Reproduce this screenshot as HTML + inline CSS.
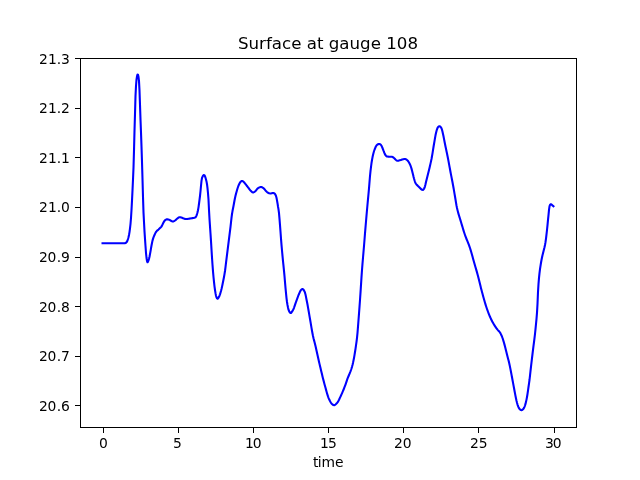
<!DOCTYPE html>
<html lang="en"><head><meta charset="utf-8"><title>Surface at gauge 108</title>
<style>html,body{margin:0;padding:0;background:#fff;overflow:hidden}svg{display:block}</style>
</head><body>
<svg width="640" height="480" viewBox="0 0 640 480">
<rect x="0" y="0" width="640" height="480" fill="#ffffff"/>
<polyline fill="none" stroke="#0000ff" stroke-width="2.083" stroke-linejoin="round" stroke-linecap="square" points="102.545,243.30 103,243.30 103.5,243.30 104,243.30 104.5,243.30 105,243.30 105.5,243.30 106,243.30 106.5,243.30 107,243.30 107.5,243.30 108,243.30 108.5,243.30 109,243.30 109.5,243.30 110,243.30 110.5,243.30 111,243.30 111.5,243.30 112,243.30 112.5,243.30 113,243.30 113.5,243.30 114,243.30 114.5,243.30 115,243.30 115.5,243.30 116,243.30 116.5,243.30 117,243.30 117.5,243.30 118,243.30 118.5,243.30 119,243.30 119.5,243.30 120,243.30 120.5,243.30 121,243.30 121.5,243.30 122,243.30 122.5,243.30 123,243.30 123.5,243.30 124,243.28 124.5,243.22 125,243.12 125.5,243.00 126,242.74 126.5,242.25 127,241.60 127.5,240.52 128,239.00 128.5,237.22 129,235.00 129.5,232.09 130,228.48 130.5,224.00 131,218.00 131.5,210.00 132,200.65 132.5,190.33 133,179.53 133.5,167.72 134,150.48 134.5,130.90 135,114.00 135.5,96.00 136,86.00 136.5,79.56 137,76.39 137.5,74.59 138,74.80 138.5,76.86 139,81.12 139.5,90.53 140,104.91 140.5,119.48 141,132.53 141.5,146.65 142,162.00 142.5,179.05 143,196.96 143.5,212.37 144,222.00 144.5,231.33 145,238.85 145.5,245.99 146,253.00 146.5,257.74 147,261.00 147.5,262.25 148,261.74 148.5,260.47 149,258.78 149.5,256.68 150,254.12 150.5,251.39 151,248.41 151.5,245.52 152,242.97 152.5,240.65 153,238.85 153.5,237.43 154,236.20 154.5,235.03 155,233.88 155.5,232.83 156,232.00 156.5,231.36 157,230.83 157.5,230.35 158,229.91 158.5,229.47 159,229.00 159.5,228.53 160,228.08 160.5,227.63 161,227.11 161.5,226.50 162,225.65 162.5,224.58 163,223.47 163.5,222.50 164,221.64 164.5,220.85 165,220.30 165.5,219.93 166,219.61 166.5,219.38 167,219.30 167.5,219.34 168,219.43 168.5,219.55 169,219.70 169.5,219.91 170,220.22 170.5,220.54 171,220.80 171.5,221.03 172,221.26 172.5,221.43 173,221.50 173.5,221.40 174,221.16 174.5,220.83 175,220.50 175.5,220.13 176,219.68 176.5,219.21 177,218.80 177.5,218.40 178,217.97 178.5,217.59 179,217.31 179.5,217.20 180,217.23 180.5,217.31 181,217.44 181.5,217.61 182,217.79 182.5,218.00 183,218.20 183.5,218.41 184,218.59 184.5,218.76 185,218.89 185.5,218.97 186,219.00 186.5,218.99 187,218.97 187.5,218.92 188,218.87 188.5,218.81 189,218.73 189.5,218.65 190,218.56 190.5,218.47 191,218.38 191.5,218.29 192,218.20 192.5,218.12 193,218.04 193.5,217.96 194,217.86 194.5,217.73 195,217.57 195.5,217.34 196,216.69 196.5,215.55 197,214.06 197.5,212.36 198,210.25 198.5,207.31 199,203.77 199.5,199.91 200,196.00 200.5,191.26 201,185.72 201.5,180.81 202,178.00 202.5,176.81 203,175.86 203.5,175.23 204,175.00 204.5,175.35 205,176.30 205.5,177.72 206,179.46 206.5,181.42 207,184.23 207.5,188.20 208,193.24 208.5,199.47 209,210.02 209.5,218.96 210,226.39 210.5,233.51 211,241.17 211.5,249.45 212,257.56 212.5,264.77 213,271.30 213.5,277.00 214,281.94 214.5,286.33 215,290.00 215.5,293.17 216,295.78 216.5,297.30 217,298.35 217.5,298.80 218,298.47 218.5,297.71 219,296.82 219.5,295.71 220,294.32 220.5,292.72 221,291.00 221.5,289.07 222,286.86 222.5,284.47 223,282.00 223.5,279.52 224,276.94 224.5,274.14 225,271.00 225.5,267.12 226,262.82 226.5,258.78 227,254.79 227.5,250.80 228,246.80 228.5,242.80 229,238.80 229.5,234.82 230,230.86 230.5,226.82 231,222.47 231.5,217.91 232,214.00 232.5,211.05 233,208.53 233.5,206.00 234,203.25 234.5,200.50 235,198.00 235.5,195.83 236,193.86 236.5,192.00 237,190.20 237.5,188.50 238,187.00 238.5,185.68 239,184.49 239.5,183.50 240,182.64 240.5,181.89 241,181.40 241.5,181.10 242,180.92 242.5,180.98 243,181.34 243.5,181.80 244,182.27 244.5,182.81 245,183.42 245.5,184.06 246,184.72 246.5,185.37 247,186.00 247.5,186.63 248,187.30 248.5,187.98 249,188.66 249.5,189.31 250,189.94 250.5,190.50 251,191.00 251.5,191.49 252,191.98 252.5,192.35 253,192.50 253.5,192.41 254,192.17 254.5,191.84 255,191.50 255.5,191.06 256,190.48 256.5,189.82 257,189.17 257.5,188.60 258,188.20 258.5,187.91 259,187.63 259.5,187.38 260,187.18 260.5,187.05 261,187.00 261.5,187.07 262,187.26 262.5,187.54 263,187.86 263.5,188.20 264,188.63 264.5,189.20 265,189.84 265.5,190.46 266,191.00 266.5,191.48 267,191.95 267.5,192.39 268,192.75 268.5,193.00 269,193.18 269.5,193.34 270,193.46 270.5,193.50 271,193.45 271.5,193.32 272,193.18 272.5,193.05 273,193.00 273.5,193.07 274,193.25 274.5,193.50 275,194.00 275.5,194.86 276,196.00 276.5,197.80 277,200.35 277.5,203.20 278,206.50 278.5,209.33 279,213.21 279.5,218.89 280,225.12 280.5,231.78 281,238.67 281.5,244.87 282,250.51 282.5,255.85 283,261.05 283.5,265.97 284,270.88 284.5,276.22 285,282.17 285.5,287.95 286,293.17 286.5,298.11 287,302.00 287.5,304.97 288,307.57 288.5,309.63 289,311.00 289.5,311.92 290,312.64 290.5,312.99 291,312.87 291.5,312.41 292,311.70 292.5,310.86 293,310.00 293.5,309.01 294,307.77 294.5,306.37 295,304.89 295.5,303.40 296,302.00 296.5,300.64 297,299.24 297.5,297.85 298,296.49 298.5,295.19 299,294.00 299.5,292.83 300,291.67 300.5,290.68 301,290.00 301.5,289.55 302,289.19 302.5,289.01 303,289.14 303.5,289.67 304,290.46 304.5,291.40 305,292.65 305.5,294.55 306,296.90 306.5,299.46 307,302.00 307.5,304.56 308,307.32 308.5,310.21 309,313.16 309.5,316.11 310,319.00 310.5,321.90 311,324.90 311.5,327.89 312,330.79 312.5,333.52 313,336.00 313.5,338.16 314,340.12 314.5,342.01 315,344.00 315.5,346.11 316,348.28 316.5,350.49 317,352.73 317.5,354.98 318,357.24 318.5,359.48 319,361.70 319.5,363.87 320,366.00 320.5,368.10 321,370.19 321.5,372.27 322,374.34 322.5,376.39 323,378.40 323.5,380.37 324,382.30 324.5,384.18 325,386.00 325.5,387.81 326,389.63 326.5,391.44 327,393.20 327.5,394.87 328,396.42 328.5,397.81 329,399.00 329.5,400.06 330,401.07 330.5,401.99 331,402.81 331.5,403.48 332,404.00 332.5,404.43 333,404.81 333.5,405.09 334,405.20 334.5,405.11 335,404.86 335.5,404.49 336,404.03 336.5,403.52 337,403.00 337.5,402.40 338,401.64 338.5,400.76 339,399.78 339.5,398.74 340,397.65 340.5,396.57 341,395.50 341.5,394.43 342,393.31 342.5,392.15 343,390.96 343.5,389.74 344,388.50 344.5,387.24 345,385.92 345.5,384.56 346,383.12 346.5,381.58 347,380.06 347.5,378.70 348,377.44 348.5,376.23 349,375.00 349.5,373.79 350,372.59 350.5,371.36 351,370.00 351.5,368.50 352,366.84 352.5,365.00 353,362.90 353.5,360.52 354,357.94 354.5,355.06 355,352.00 355.5,348.82 356,345.43 356.5,341.80 357,337.83 357.5,332.79 358,326.55 358.5,320.19 359,313.67 359.5,306.94 360,300.00 360.5,292.60 361,284.81 361.5,277.12 362,270.00 362.5,263.65 363,257.73 363.5,251.95 364,246.00 364.5,239.74 365,233.45 365.5,227.39 366,221.49 366.5,215.69 367,210.00 367.5,204.51 368,199.19 368.5,193.86 369,188.32 369.5,182.20 370,176.00 370.5,171.17 371,167.00 371.5,163.23 372,160.00 372.5,157.33 373,155.00 373.5,153.00 374,151.29 374.5,149.79 375,148.50 375.5,147.32 376,146.28 376.5,145.50 377,144.92 377.5,144.45 378,144.20 378.5,144.10 379,144.03 379.5,144.00 380,144.15 380.5,144.52 381,145.00 381.5,145.75 382,146.83 382.5,148.00 383,149.28 383.5,150.69 384,152.00 384.5,153.22 385,154.36 385.5,155.20 386,155.79 386.5,156.26 387,156.50 387.5,156.57 388,156.61 388.5,156.65 389,156.67 389.5,156.70 390,156.72 390.5,156.74 391,156.75 391.5,156.77 392,156.80 392.5,156.94 393,157.23 393.5,157.61 394,158.00 394.5,158.46 395,159.02 395.5,159.56 396,160.00 396.5,160.36 397,160.67 397.5,160.80 398,160.76 398.5,160.65 399,160.50 399.5,160.34 400,160.20 400.5,160.07 401,159.92 401.5,159.76 402,159.60 402.5,159.45 403,159.31 403.5,159.18 404,159.09 404.5,159.02 405,159.00 405.5,159.09 406,159.32 406.5,159.64 407,160.00 407.5,160.44 408,161.03 408.5,161.72 409,162.50 409.5,163.39 410,164.45 410.5,165.65 411,167.00 411.5,168.63 412,170.54 412.5,172.50 413,174.52 413.5,176.61 414,178.50 414.5,180.23 415,181.81 415.5,183.00 416,183.79 416.5,184.42 417,184.96 417.5,185.50 418,186.04 418.5,186.54 419,187.03 419.5,187.51 420,188.00 420.5,188.56 421,189.12 421.5,189.50 422,189.72 422.5,189.87 423,189.86 423.5,189.47 424,188.80 424.5,187.85 425,186.22 425.5,184.27 426,182.00 426.5,179.96 427,177.98 427.5,176.00 428,174.01 428.5,172.03 429,170.00 429.5,167.93 430,165.81 430.5,163.62 431,161.39 431.5,159.01 432,156.31 432.5,153.31 433,150.16 433.5,147.00 434,144.00 434.5,141.05 435,138.09 435.5,135.33 436,133.00 436.5,131.01 437,129.27 437.5,128.00 438,127.14 438.5,126.60 439,126.32 439.5,126.20 440,126.39 440.5,126.80 441,127.40 441.5,128.30 442,129.77 442.5,131.80 443,134.00 443.5,136.31 444,138.84 444.5,141.46 445,144.00 445.5,146.43 446,148.81 446.5,151.18 447,153.56 447.5,155.99 448,158.50 448.5,161.12 449,163.82 449.5,166.57 450,169.31 450.5,172.00 451,174.61 451.5,177.17 452,179.73 452.5,182.32 453,185.00 453.5,187.80 454,190.68 454.5,193.60 455,196.50 455.5,199.49 456,202.57 456.5,205.48 457,208.00 457.5,210.13 458,212.07 458.5,213.87 459,215.55 459.5,217.17 460,218.76 460.5,220.35 461,222.00 461.5,223.69 462,225.38 462.5,227.07 463,228.73 463.5,230.37 464,231.97 464.5,233.52 465,235.00 465.5,236.40 466,237.73 466.5,239.00 467,240.22 467.5,241.44 468,242.66 468.5,243.90 469,245.19 469.5,246.55 470,248.00 470.5,249.56 471,251.22 471.5,252.96 472,254.75 472.5,256.57 473,258.41 473.5,260.22 474,262.00 474.5,263.74 475,265.46 475.5,267.17 476,268.88 476.5,270.61 477,272.37 477.5,274.16 478,276.00 478.5,277.92 479,279.91 479.5,281.95 480,284.02 480.5,286.09 481,288.13 481.5,290.11 482,292.00 482.5,293.84 483,295.68 483.5,297.50 484,299.29 484.5,301.05 485,302.76 485.5,304.42 486,306.02 486.5,307.55 487,309.00 487.5,310.39 488,311.74 488.5,313.06 489,314.33 489.5,315.56 490,316.74 490.5,317.88 491,318.97 491.5,320.01 492,321.00 492.5,321.94 493,322.85 493.5,323.72 494,324.56 494.5,325.37 495,326.15 495.5,326.90 496,327.62 496.5,328.32 497,329.00 497.5,329.61 498,330.16 498.5,330.67 499,331.20 499.5,331.80 500,332.50 500.5,333.35 501,334.35 501.5,335.47 502,336.70 502.5,338.00 503,339.44 503.5,341.07 504,342.83 504.5,344.65 505,346.50 505.5,348.40 506,350.39 506.5,352.43 507,354.48 507.5,356.50 508,358.43 508.5,360.33 509,362.30 509.5,364.45 510,366.84 510.5,369.40 511,372.00 511.5,374.63 512,377.31 512.5,380.00 513,382.67 513.5,385.33 514,388.00 514.5,390.71 515,393.42 515.5,396.00 516,398.46 516.5,400.77 517,402.76 517.5,404.54 518,406.00 518.5,407.19 519,408.20 519.5,408.90 520,409.38 520.5,409.80 521,410.09 521.5,410.20 522,410.07 522.5,409.73 523,409.25 523.5,408.70 524,407.92 524.5,406.81 525,405.50 525.5,403.88 526,401.87 526.5,399.60 527,396.95 527.5,394.00 528,390.61 528.5,387.00 529,383.61 529.5,380.00 530,375.66 530.5,371.11 531,366.63 531.5,362.29 532,358.10 532.5,354.00 533,349.97 533.5,345.99 534,342.04 534.5,338.17 535,334.00 535.5,329.20 536,324.00 536.5,318.80 537,312.60 537.5,304.00 538,292.04 538.5,284.00 539,277.94 539.5,273.13 540,269.21 540.5,265.83 541,262.77 541.5,259.98 542,257.45 542.5,255.17 543,253.16 543.5,251.21 544,249.19 544.5,247.23 545,245.03 545.5,242.19 546,238.55 546.5,234.39 547,230.00 547.5,225.17 548,219.97 548.5,215.03 549,209.88 549.5,206.30 550,204.95 550.5,204.34 551,204.24 551.5,204.53 552,204.92 552.5,205.40 553,205.86 553.455,206.30"/>
<g stroke="#000000" stroke-width="1.11" fill="none" shape-rendering="crispEdges">
<rect x="80.5" y="58.5" width="496" height="369"/>
<line x1="103.5" y1="428" x2="103.5" y2="432.5"/>
<line x1="178.5" y1="428" x2="178.5" y2="432.5"/>
<line x1="253.5" y1="428" x2="253.5" y2="432.5"/>
<line x1="328.5" y1="428" x2="328.5" y2="432.5"/>
<line x1="403.5" y1="428" x2="403.5" y2="432.5"/>
<line x1="478.5" y1="428" x2="478.5" y2="432.5"/>
<line x1="554.5" y1="428" x2="554.5" y2="432.5"/>
<line x1="75" y1="58.5" x2="80" y2="58.5"/>
<line x1="75" y1="108.5" x2="80" y2="108.5"/>
<line x1="75" y1="157.5" x2="80" y2="157.5"/>
<line x1="75" y1="207.5" x2="80" y2="207.5"/>
<line x1="75" y1="257.5" x2="80" y2="257.5"/>
<line x1="75" y1="306.5" x2="80" y2="306.5"/>
<line x1="75" y1="356.5" x2="80" y2="356.5"/>
<line x1="75" y1="405.5" x2="80" y2="405.5"/>
</g>
<g font-family="'DejaVu Sans', 'Liberation Sans', sans-serif" font-size="13.889px" fill="#000000">
<text x="99" y="448">0</text>
<text x="173" y="448">5</text>
<text x="245.0 252.75" y="448">10</text>
<text x="320.0 327.9" y="448">15</text>
<text x="394.0 402.7" y="448">20</text>
<text x="470.0 478.75" y="448">25</text>
<text x="545.0 552.75" y="448">30</text>
<text x="39 48 56.7 61" y="64">21.3</text>
<text x="39 48 56.7 61" y="113">21.2</text>
<text x="39 48 56.7 61" y="163">21.1</text>
<text x="39 48 56.7 60.9" y="212">21.0</text>
<text x="39 47.5 56.7 61" y="262">20.9</text>
<text x="39 47.5 56.7 61" y="312">20.8</text>
<text x="39 47.5 56.7 61" y="361">20.7</text>
<text x="39 47.5 56.7 61" y="411">20.6</text>
<text x="312.9 317.8 321.5 335.1" y="466.5">time</text>
<text x="328" y="49.3" text-anchor="middle" font-size="16.667px">Surface at gauge 108</text>
</g>
</svg>
</body></html>
